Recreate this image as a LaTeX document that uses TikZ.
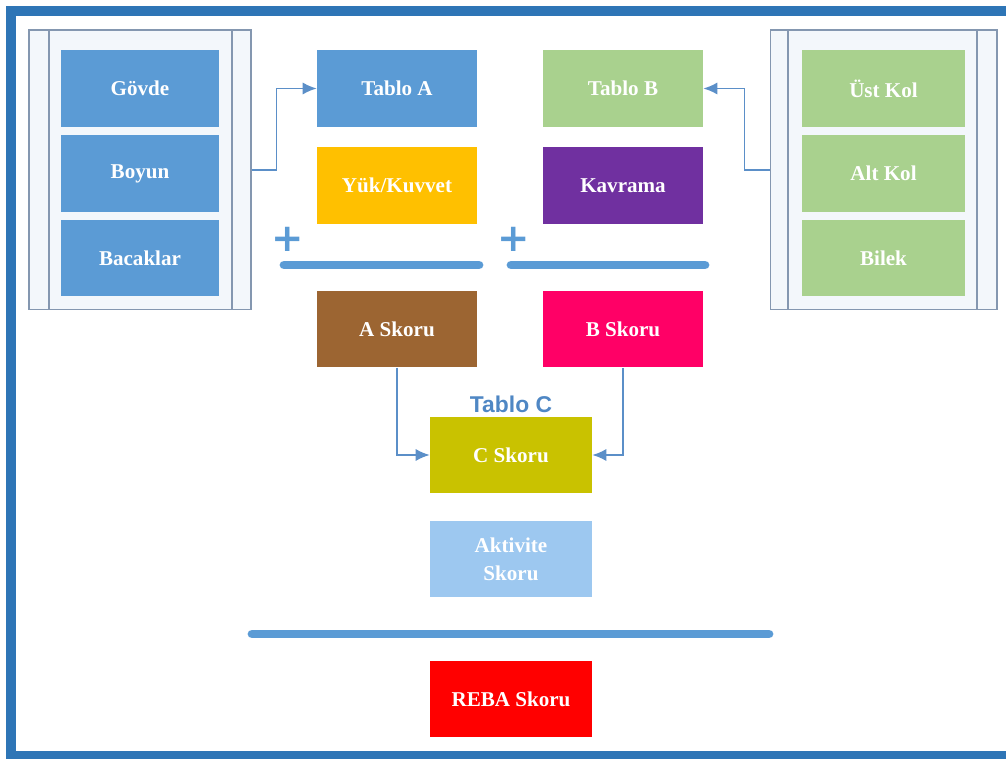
\documentclass[tikz,border=0pt]{standalone}
\usepackage{fontspec}
\setmainfont{Liberation Serif}
\setsansfont{Liberation Sans}
\newfontfamily\plusfont{DejaVu Sans}
\usepackage{tikz}
\usetikzlibrary{
    calc,
    arrows.meta
}

\definecolor{frameblue}{HTML}{2E75B6}
\definecolor{boxblue}{HTML}{5B9BD5}
\definecolor{boxgreen}{HTML}{A9D18E}
\definecolor{boxyellow}{HTML}{FFC000}
\definecolor{boxpurple}{HTML}{7030A0}
\definecolor{boxbrown}{HTML}{9C6532}
\definecolor{boxpink}{HTML}{FF0066}
\definecolor{boxolive}{HTML}{C9C200}
\definecolor{boxlight}{HTML}{9DC8F0}
\definecolor{boxred}{HTML}{FF0000}
\definecolor{panelfill}{HTML}{F3F7FB}
\definecolor{panelline}{HTML}{8497B0}
\definecolor{connblue}{HTML}{5B8FC8}
\definecolor{labelblue}{HTML}{4F87C4}

\begin{document}
\begin{tikzpicture}[x=0.02cm,y=-0.02cm,
    box/.style={rectangle,minimum width=3.2cm,minimum height=1.54cm,inner sep=0pt,
        text=white,align=center,font=\fontsize{12}{16}\selectfont\bfseries},
    panel/.style={rectangle,draw=panelline,fill=panelfill,line width=0.6pt,
        minimum height=5.6cm,inner sep=0pt},
    conn/.style={draw=connblue,line width=1pt,-{Latex[length=8pt,width=7pt]}},
    bar/.style={draw=boxblue,line width=5pt,line cap=round},
    plus/.style={text=boxblue,font=\plusfont\bfseries\fontsize{22}{22}\selectfont,inner sep=0pt}
]

\useasboundingbox (0,0) rectangle (1006,759);

% frame
\draw[frameblue,line width=5.5pt] (11,11) rectangle (1020,756);

% left panel
\node[panel,minimum width=4.44cm] (panelL) at (140,170) {};
\draw[panelline,line width=0.6pt] (49,30)--(49,310);
\draw[panelline,line width=0.6pt] (232,30)--(232,310);
\node[box,fill=boxblue,minimum width=3.16cm] (govde) at (140,88.5) {Gövde};
\node[box,fill=boxblue,minimum width=3.16cm] (boyun) at (140,173.5) {Boyun};
\node[box,fill=boxblue,minimum width=3.16cm] (bacak) at (140,258) {Bacaklar};

% right panel
\node[panel,minimum width=4.54cm] (panelR) at (883.5,170) {};
\draw[panelline,line width=0.6pt] (788,30)--(788,310);
\draw[panelline,line width=0.6pt] (977,30)--(977,310);
\node[box,fill=boxgreen,minimum width=3.26cm] (ustkol) at (883.5,88.5) {Üst Kol};
\node[box,fill=boxgreen,minimum width=3.26cm] (altkol) at (883.5,173.5) {Alt Kol};
\node[box,fill=boxgreen,minimum width=3.26cm] (bilek) at (883.5,258) {Bilek};

% tables
\node[box,fill=boxblue] (tabloA) at (397,88.5) {Tablo A};
\node[box,fill=boxyellow] (yuk) at (397,185.5) {Yük/Kuvvet};
\node[box,fill=boxgreen] (tabloB) at (623,88.5) {Tablo B};
\node[box,fill=boxpurple] (kavrama) at (623,185.5) {Kavrama};

\node[plus] (plusA) at (288,239) {+};
\node[plus] (plusB) at (514,239) {+};
\coordinate (barAl) at (284,265);
\coordinate (barAr) at (479,265);
\coordinate (barBl) at (511,265);
\coordinate (barBr) at (705,265);
\draw[bar] (barAl)--(barAr);
\draw[bar] (barBl)--(barBr);

% scores
\node[box,fill=boxbrown] (askor) at (397,329) {A Skoru};
\node[box,fill=boxpink] (bskor) at (623,329) {B Skoru};
\node[text=labelblue,font=\sffamily\bfseries\fontsize{13}{13}\selectfont] (tabloC) at (511,404) {Tablo C};
\node[box,fill=boxolive,minimum width=3.24cm] (cskor) at (511,455) {C Skoru};
\node[box,fill=boxlight,minimum width=3.24cm] (aktivite) at (511,559) {Aktivite\\Skoru};

\coordinate (barCl) at (252,634);
\coordinate (barCr) at (769,634);
\draw[bar] (barCl)--(barCr);

\node[box,fill=boxred,minimum width=3.24cm] (reba) at (511,699) {REBA Skoru};

% connectors
\draw[conn] (panelL.east) -- ++(25,0) |- (tabloA.west);
\draw[conn] (panelR.west) -- ++(-25,0) |- (tabloB.east);
\draw[conn] (askor.south) |- (cskor.west);
\draw[conn] (bskor.south) |- (cskor.east);

\end{tikzpicture}
\end{document}
